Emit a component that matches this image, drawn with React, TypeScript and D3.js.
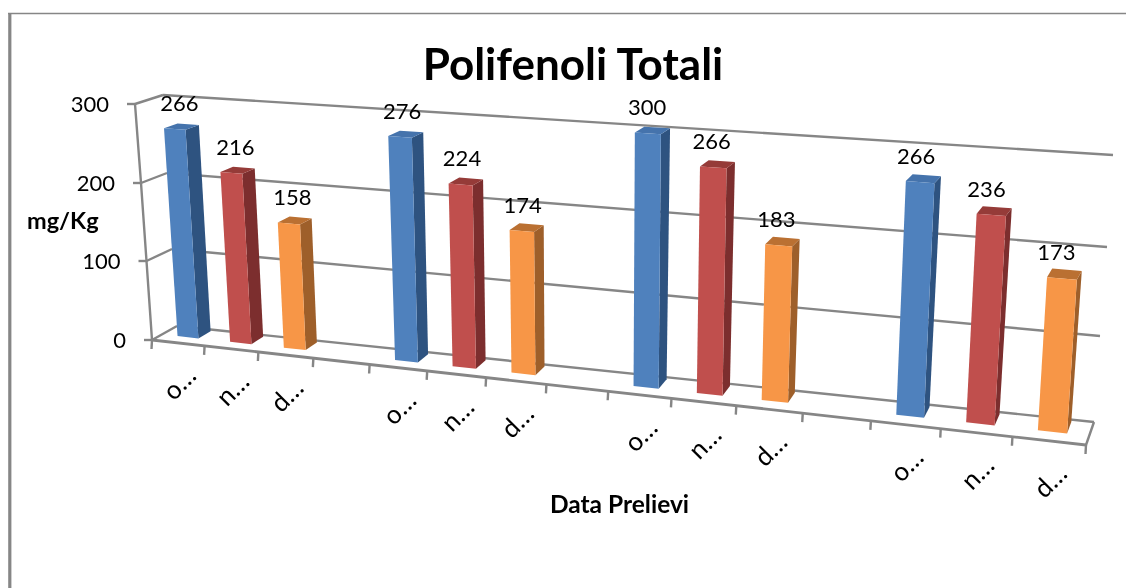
import React from "react";
import * as d3 from "d3";

const title = "Polifenoli Totali";
const xTitle = "Data Prelievi";
const yTitle = "mg/Kg";
const monthLabels = ["o…", "n…", "d…"];
const valueTicks = [0, 100, 200, 300];
const ottobre = [266, 276, 300, 266];
const novembre = [216, 224, 266, 236];
const dicembre = [158, 174, 183, 173];
const seriesValues = [ottobre, novembre, dicembre];
const faceColors = [
  { front: "#4F81BD", side: "#2F5380", top: "#4473AC" },
  { front: "#C0504D", side: "#7C2F2D", top: "#953A37" },
  { front: "#F79646", side: "#9E5F2B", top: "#BA6F30" },
];

const SLOTS = 15;
const FONT = "Lato, 'Noto Sans', sans-serif";
const GRID = "#868686";

const edge = (xs: number[], ys: number[]) => ({
  x: d3.scaleLinear().domain(valueTicks).range(xs),
  y: d3.scaleLinear().domain(valueTicks).range(ys),
});
const frontLeft = edge([152, 146.5, 141, 135], [340, 261, 183, 104]);
const frontRight = edge([1086, 1092, 1097, 1103], [445, 356, 264, 169]);
const backLeft = edge([177, 172, 167, 163], [326, 249, 173, 95]);
const backRight = edge([1094, 1100, 1107, 1113], [422, 336, 247, 155]);

const K = 1.197;
const slotFrac = (s: number) => {
  const u = s / SLOTS;
  return u / (u + K * (1 - u));
};

type P = [number, number];
const project = (s: number, depth: number, v: number): P => {
  const f = slotFrac(s);
  const mix = d3.interpolateNumber;
  const fx = mix(frontLeft.x(v), frontRight.x(v))(f);
  const fy = mix(frontLeft.y(v), frontRight.y(v))(f);
  const bx = mix(backLeft.x(v), backRight.x(v))(f);
  const by = mix(backLeft.y(v), backRight.y(v))(f);
  return [mix(fx, bx)(depth), mix(fy, by)(depth)];
};

const pathOf = d3.line<P>();
const poly = (pts: P[]) => pathOf(pts)! + "Z";

const D0 = 0.4;
const D1 = 0.9;
const HALF = 0.2;

export default function App() {
  const bars = seriesValues.flatMap((vals, si) =>
    vals.map((v, g) => ({ v, si, s: g * 4 + si + 0.5 }))
  );
  const slotTicks = d3.range(0, SLOTS + 1);

  return (
    <svg
      width={1126}
      height={588}
      viewBox="0 0 1126 588"
      style={{ position: "absolute", left: 0, top: 0, background: "#fff" }}
    >
      <defs>
        <filter id="soft" x="0" y="0" width="100%" height="100%">
          <feGaussianBlur stdDeviation={0.45} />
        </filter>
      </defs>
      <g filter="url(#soft)">
        <rect width={1126} height={588} fill="#fff" />
        {/* frame */}
        <line x1={8} y1={13.5} x2={1126} y2={13.5} stroke={GRID} strokeWidth={1.6} />
        <line x1={9.8} y1={13} x2={9.8} y2={588} stroke={GRID} strokeWidth={3.2} />

        <text x={573} y={80} textAnchor="middle" fontFamily={FONT} fontWeight={700} fontSize={44} fill="#000">
          {title}
        </text>

        {/* walls and gridlines */}
        <g stroke={GRID} strokeWidth={2.4} fill="none">
          {valueTicks.map((t) => (
            <g key={t}>
              <path d={pathOf([project(0, 1, t), project(SLOTS, 1, t)])!} />
              <path d={pathOf([project(0, 0, t), project(0, 1, t)])!} />
              <line
                x1={frontLeft.x(t) - 8}
                y1={frontLeft.y(t)}
                x2={frontLeft.x(t)}
                y2={frontLeft.y(t)}
              />
            </g>
          ))}
          <path d={pathOf(valueTicks.map((t) => project(0, 0, t)))!} />
          <path d={pathOf([project(0, 0, 0), project(SLOTS, 0, 0)])!} strokeWidth={2.8} />
          <path d={pathOf([project(SLOTS, 0, 0), project(SLOTS, 1, 0)])!} />
          {slotTicks.map((s) => {
            const [x, y] = project(s, 0, 0);
            return <line key={s} x1={x} y1={y} x2={x - 0.5} y2={y + 9} />;
          })}
        </g>

        {/* value axis labels */}
        {valueTicks.map((t) => (
          <text
            key={t}
            x={frontLeft.x(t) - 26}
            y={frontLeft.y(t) + 8}
            textAnchor="end"
            fontFamily={FONT}
            fontSize={22}
            fill="#000"
          >
            {t}
          </text>
        ))}
        <text x={27} y={229} fontFamily={FONT} fontWeight={700} fontSize={23.5} fill="#000">
          {yTitle}
        </text>

        {/* bars */}
        {bars.map(({ v, si, s }) => {
          const c = faceColors[si];
          const a = project(s - HALF, D0, 0);
          const b = project(s + HALF, D0, 0);
          const c0 = project(s + HALF, D1, 0);
          const at = project(s - HALF, D0, v);
          const bt = project(s + HALF, D0, v);
          const ct = project(s + HALF, D1, v);
          const dt = project(s - HALF, D1, v);
          return (
            <g key={`${si}-${s}`}>
              <path d={poly([b, c0, ct, bt])} fill={c.side} />
              <path d={poly([at, bt, ct, dt])} fill={c.top} />
              <path d={poly([a, b, bt, at])} fill={c.front} />
            </g>
          );
        })}

        {/* data labels */}
        {bars.map(({ v, si, s }) => {
          const [x, y] = project(s, D0, v);
          const dx = 5 - 11 * slotFrac(s);
          return (
            <text
              key={`l${si}-${s}`}
              x={x + dx}
              y={y - 18}
              textAnchor="middle"
              fontFamily={FONT}
              fontSize={22}
              fill="#000"
            >
              {v}
            </text>
          );
        })}

        {/* category labels */}
        {bars.map(({ si, s }) => {
          const [x, y] = project(s, 0, 0);
          return (
            <text
              key={`c${si}-${s}`}
              transform={`translate(${x + 3},${y + 42}) rotate(-45)`}
              textAnchor="middle"
              dominantBaseline="middle"
              fontFamily={FONT}
              fontSize={26}
              fill="#000"
            >
              {monthLabels[si]}
            </text>
          );
        })}

        <text x={619.5} y={513} textAnchor="middle" fontFamily={FONT} fontWeight={700} fontSize={24.5} fill="#000">
          {xTitle}
        </text>
      </g>
    </svg>
  );
}
